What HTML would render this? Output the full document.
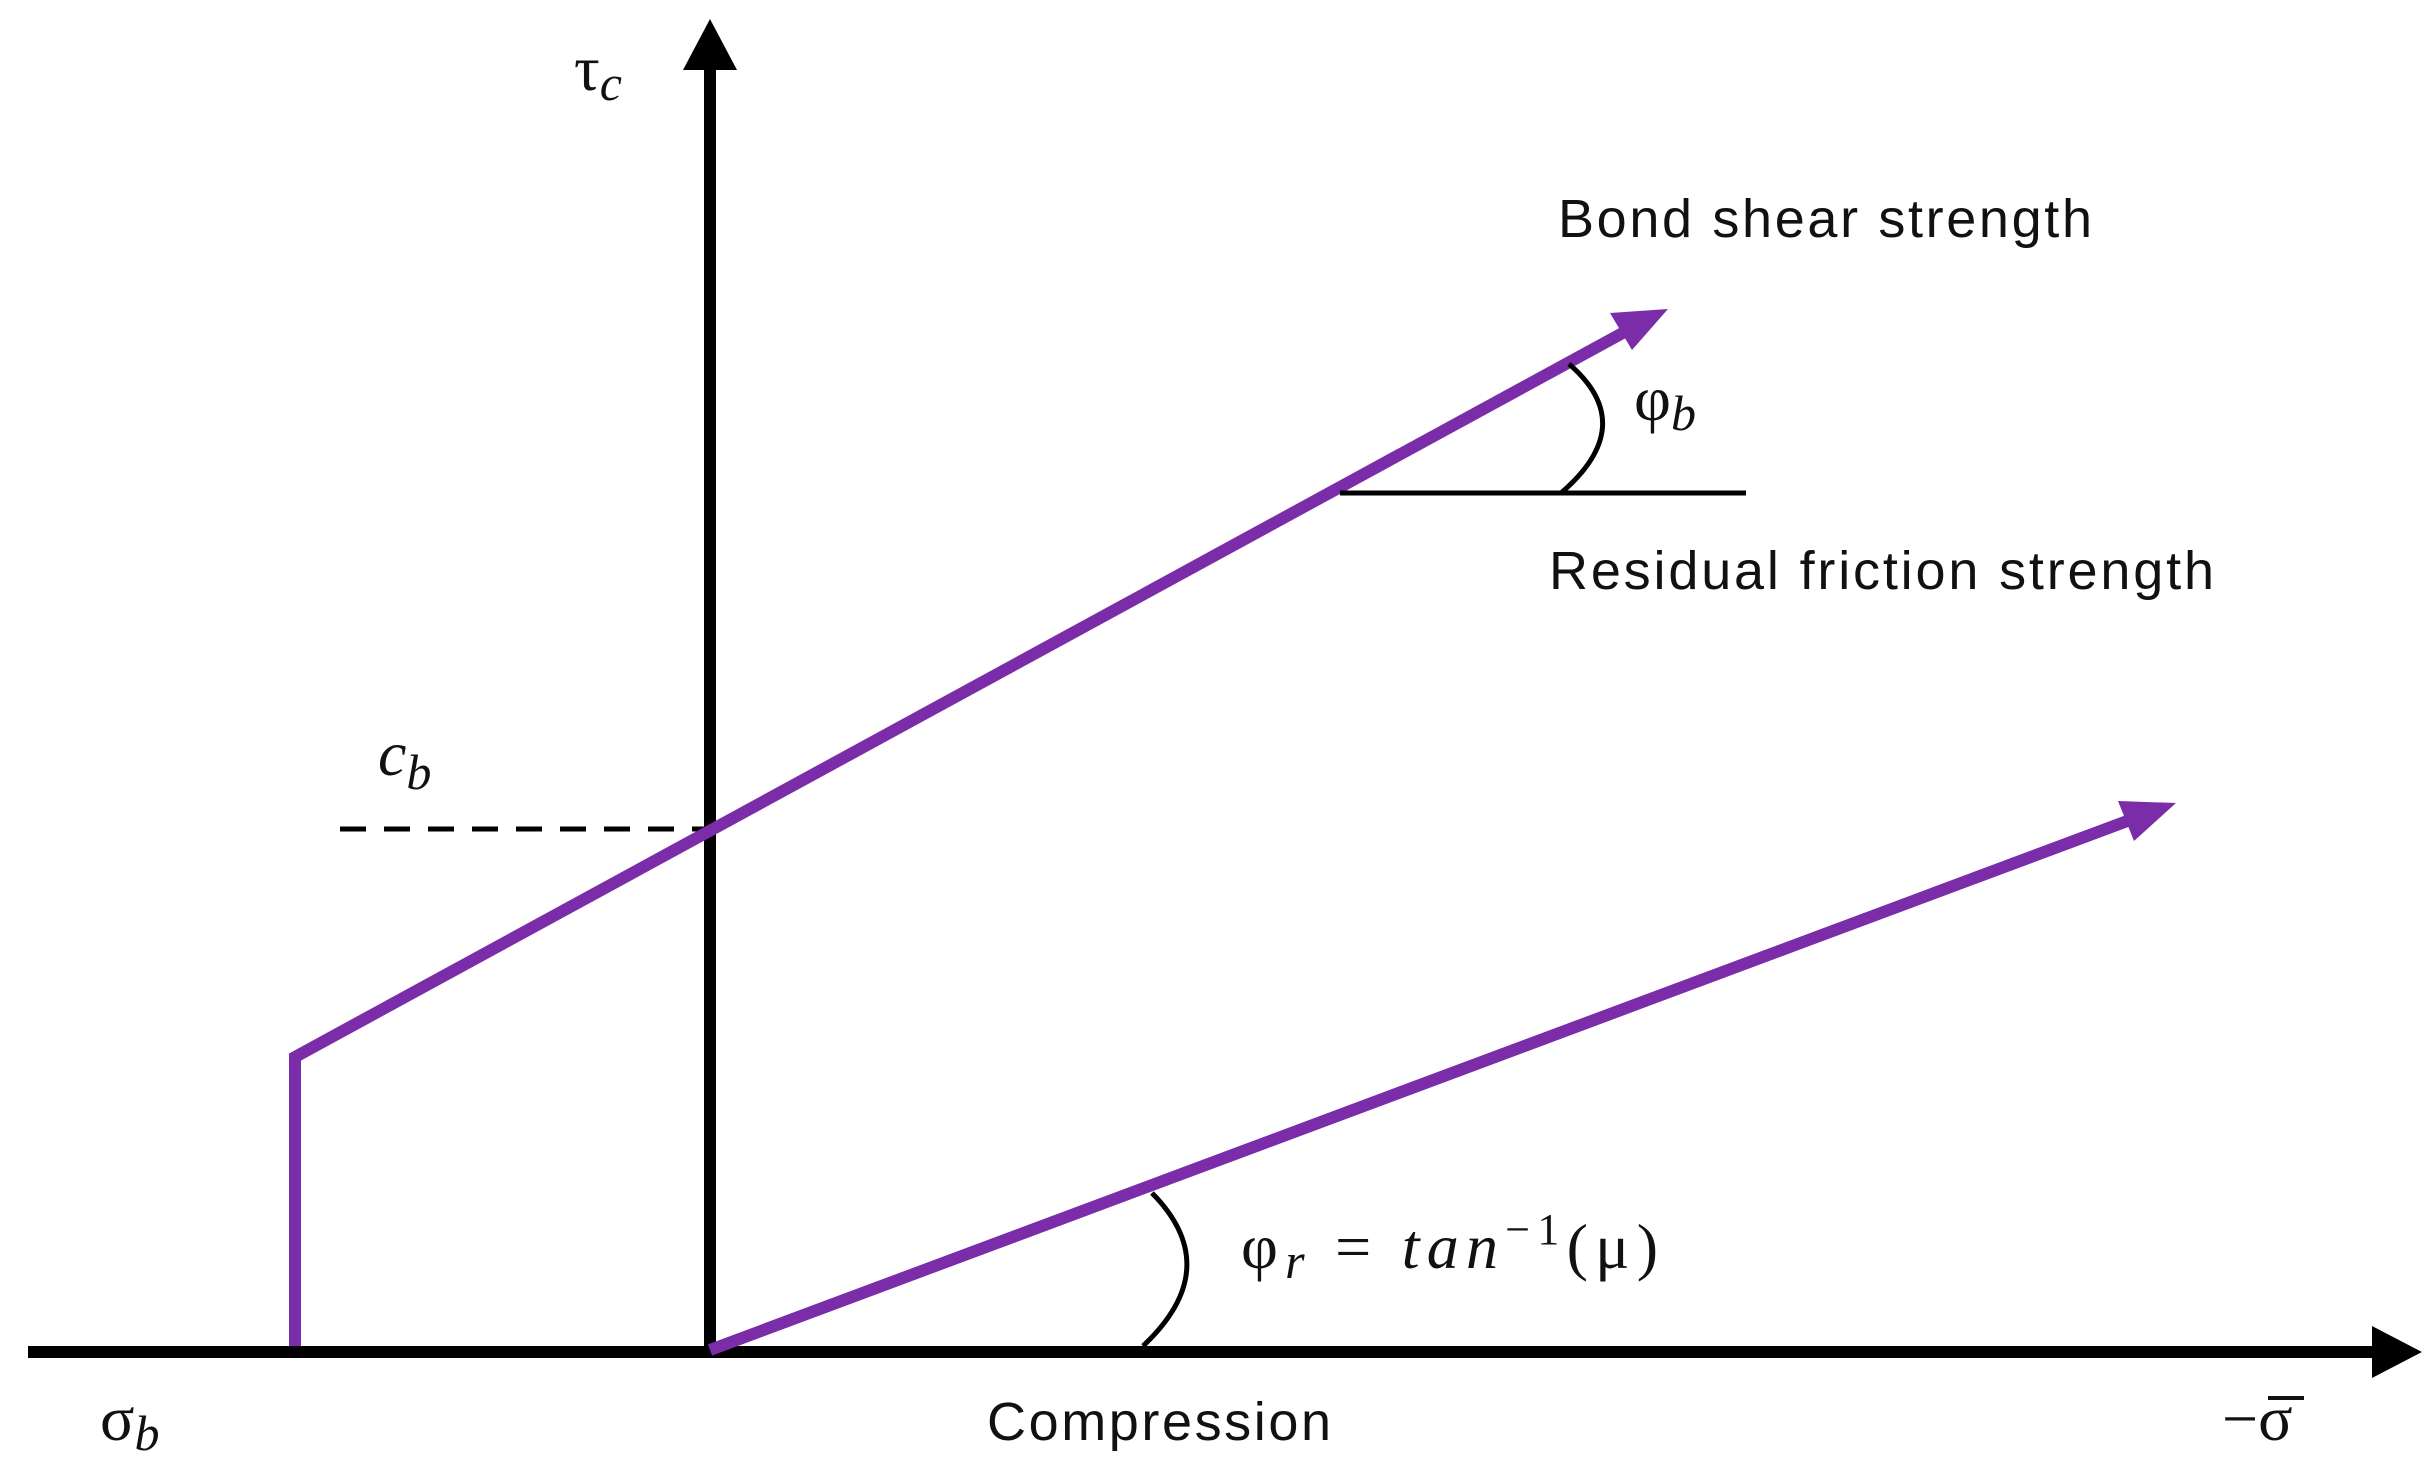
<!DOCTYPE html>
<html><head><meta charset="utf-8"><style>
html,body{margin:0;padding:0;background:#fff;}
svg{display:block;}
.s{font-family:"Liberation Sans",sans-serif;font-size:54px;fill:#111;}
.m{font-family:"Liberation Serif",serif;font-size:64px;fill:#111;}
.i{font-style:italic;}
</style></head><body>
<svg width="2436" height="1476" viewBox="0 0 2436 1476" xmlns="http://www.w3.org/2000/svg">
<line x1="710" y1="1352" x2="710" y2="62" stroke="#000" stroke-width="12"/>
<polygon points="710,19 683,70 737,70" fill="#000"/>
<line x1="28" y1="1352" x2="2380" y2="1352" stroke="#000" stroke-width="12"/>
<polygon points="2422,1352 2372,1326 2372,1378" fill="#000"/>
<line x1="340" y1="829" x2="706" y2="829" stroke="#000" stroke-width="5" stroke-dasharray="26,18"/>
<polyline points="295,1346 295,1057 1630,329" fill="none" stroke="#7B2CA8" stroke-width="12" stroke-linejoin="miter"/>
<polygon points="1668,309 1610,313 1632,350" fill="#7B2CA8"/>
<line x1="710" y1="1350" x2="2138" y2="817" stroke="#7B2CA8" stroke-width="12"/>
<polygon points="2176,803 2118,801 2134,841" fill="#7B2CA8"/>
<line x1="1340" y1="493" x2="1746" y2="493" stroke="#000" stroke-width="5"/>
<path d="M1569,364 Q1640,425 1561,493" fill="none" stroke="#000" stroke-width="5"/>
<path d="M1152,1193 Q1226,1268 1143,1346" fill="none" stroke="#000" stroke-width="5"/>
<text class="s" x="1558" y="237" textLength="534">Bond shear strength</text>
<text class="s" x="1549" y="589" textLength="665">Residual friction strength</text>
<text class="s" x="987" y="1440" textLength="344">Compression</text>
<text class="m" x="574" y="90">τ<tspan class="i" font-size="50" dy="10">c</tspan></text>
<text class="m i" x="378" y="775">c<tspan font-size="50" dy="14">b</tspan></text>
<text class="m" x="1634" y="420">φ<tspan class="i" font-size="50" dy="10">b</tspan></text>
<text class="m" x="1241" y="1268" textLength="417" lengthAdjust="spacing">φ<tspan class="i" font-size="50" dy="10">r</tspan><tspan dy="-10"> = </tspan><tspan class="i">tan</tspan><tspan font-size="44" dy="-24">−1</tspan><tspan dy="24">(μ)</tspan></text>
<text class="m" x="100" y="1440">σ<tspan class="i" font-size="50" dy="10">b</tspan></text>
<text class="m" x="2222" y="1440">−σ</text>
<line x1="2268" y1="1398" x2="2304" y2="1398" stroke="#111" stroke-width="4"/>
</svg>
</body></html>
